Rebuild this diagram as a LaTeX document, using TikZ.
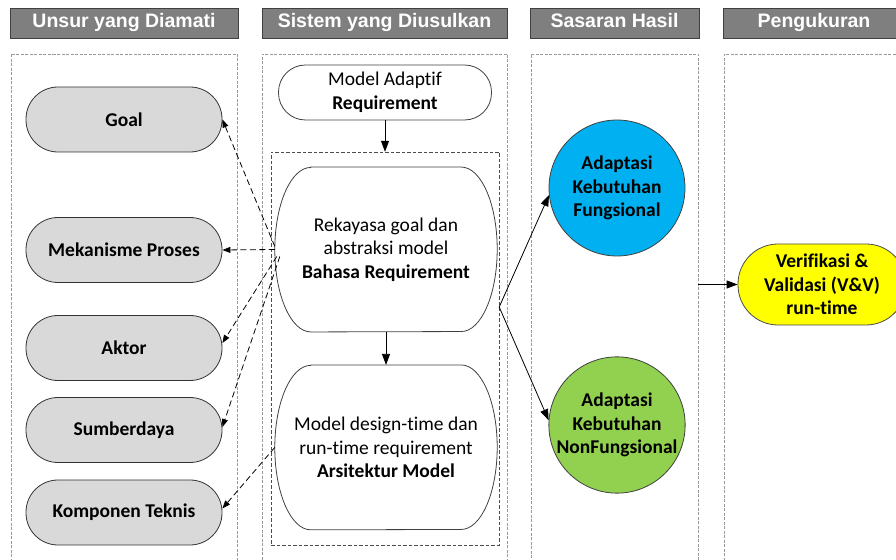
\documentclass[tikz,border=0pt]{standalone}
\usepackage{fontspec}
\setmainfont{Carlito}[Ligatures=NoCommon]
\newfontfamily\headfont{Liberation Sans}
\usepackage{xcolor}
\usetikzlibrary{positioning,arrows.meta,calc}
\definecolor{headgray}{HTML}{7F7F7F}
\definecolor{itemgray}{HTML}{D9D9D9}
\definecolor{fblue}{HTML}{00B0F0}
\definecolor{fgreen}{HTML}{92D050}
\definecolor{vvyellow}{HTML}{FFFF00}
\newcommand{\bodysize}{\fontsize{19.5}{23.5}\selectfont}
\tikzset{
headbox/.style={
draw=black!75,
line width=0.9pt,
fill=headgray,
text=white,
minimum height=30pt,
text height=14pt,
text depth=4pt,
inner sep=0pt,
font=\headfont\bfseries\fontsize{19.5}{23}\selectfont
},
colbox/.style={
draw=black!40,
dash pattern=on 3pt off 1.5pt,
minimum height=515pt,
inner sep=0pt
},
subbox/.style={
draw=black!70,
dash pattern=on 3.5pt off 2pt,
minimum width=228pt,
minimum height=393pt,
inner sep=0pt
},
itembox/.style={
draw=black!80,
line width=0.8pt,
fill=itemgray,
rounded corners=32pt,
minimum width=196pt,
minimum height=65pt,
inner sep=0pt,
font=\bodysize\bfseries
},
adaptbox/.style={
draw=black!75,
line width=0.8pt,
rounded corners=27pt,
minimum width=213pt,
minimum height=55pt,
inner sep=0pt,
align=center,
font=\bodysize
},
ovalbox/.style={
minimum width=222pt,
minimum height=164.5pt,
inner sep=0pt,
align=center,
font=\bodysize
},
ovalline/.style={
draw=black!75,
line width=0.8pt
},
fcircle/.style={
circle,
draw=black!75,
line width=0.8pt,
minimum size=136pt,
inner sep=0pt,
align=center,
font=\bodysize\bfseries
},
vvbox/.style={
draw=black!70,
line width=0.8pt,
fill=vvyellow,
rounded corners=40pt,
minimum width=168pt,
minimum height=81pt,
inner sep=0pt,
align=center,
font=\bodysize\bfseries
},
arrow/.style={
-{Triangle[length=11pt,width=8pt]},
line width=0.8pt
},
dasharrow/.style={
-{Triangle[length=8pt,width=6pt]},
line width=0.8pt,
dash pattern=on 6pt off 3.5pt
}
}

\begin{document}
\begin{tikzpicture}[x=1pt,y=1pt]
\useasboundingbox (0,0) rectangle (896,559);
\clip (0,0) rectangle (896,559);

% headers
\node[headbox,minimum width=228pt] (h1) at (124,536) {Unsur yang Diamati};
\node[headbox,minimum width=245pt] (h2) at (384.5,536) {Sistem yang Diusulkan};
\node[headbox,minimum width=169pt] (h3) at (614.5,536) {Sasaran Hasil};
\node[headbox,minimum width=182pt] (h4) at (814,536) {Pengukuran};

% columns
\node[colbox,minimum width=226pt] (c1) at (124,247.5) {};
\node[colbox,minimum width=245pt] (c2) at (384.5,247.5) {};
\node[colbox,minimum width=167pt] (c3) at (614.5,247.5) {};
\node[colbox,minimum width=186pt] (c4) at (817,247.5) {};

% unsur
\node[itembox] (goal) at (124,439.5) {Goal};
\node[itembox] (mek) at (124,309) {Mekanisme Proses};
\node[itembox] (akt) at (124,211) {Aktor};
\node[itembox] (sum) at (124,129) {Sumberdaya};
\node[itembox] (kom) at (124,46.5) {Komponen Teknis};

% sistem
\node[subbox] (sub) at (385,210.5) {};
\node[adaptbox] (adapt) at (385,466.5) {Model Adaptif\\\textbf{Requirement}};
\node[ovalbox] (rek) at (386,309.5) {Rekayasa goal dan\\abstraksi model\\\textbf{Bahasa Requirement}};
\node[ovalbox,below=33pt of rek] (dsg) {Model design-time dan\\run-time requirement\\\textbf{Arsitektur Model}};
\foreach \n in {rek,dsg}
\draw[ovalline] ([xshift=36pt]\n.north west) -- ([xshift=-36pt]\n.north east)
arc[start angle=90,end angle=-90,x radius=36pt,y radius=82.25pt]
-- ([xshift=36pt]\n.south west)
arc[start angle=270,end angle=90,x radius=36pt,y radius=82.25pt] -- cycle;

% sasaran + pengukuran
\node[fcircle,fill=fblue] (fun) at (617,371) {Adaptasi\\Kebutuhan\\Fungsional};
\node[fcircle,fill=fgreen,minimum size=134pt] (nfun) at (617,134) {Adaptasi\\Kebutuhan\\NonFungsional};
\node[vvbox] (vv) at (822,274.5) {Verifikasi \&\\Validasi (V\&V)\\run-time};

\coordinate (split) at (sub.east |- 0,252);

\draw[arrow](adapt.south)--(adapt.south |- sub.north);
\draw[arrow](rek)--(dsg);
\draw[arrow](split)--(fun.186);
\draw[arrow](split)--(nfun.176);
\draw[arrow](c3.east |- vv.west)--(vv.west);

\draw[dasharrow]([yshift=3pt]rek.west)--(goal.east);
\draw[dasharrow](rek.west)--(mek.east);
\draw[dasharrow]([xshift=2pt,yshift=-7pt]rek.west)--([yshift=5pt]akt.east);
\draw[dasharrow]([xshift=5pt,yshift=-7pt]rek.west)--([yshift=3pt]sum.east);
\draw[dasharrow](dsg.west)--([yshift=4pt]kom.east);
\end{tikzpicture}
\end{document}
